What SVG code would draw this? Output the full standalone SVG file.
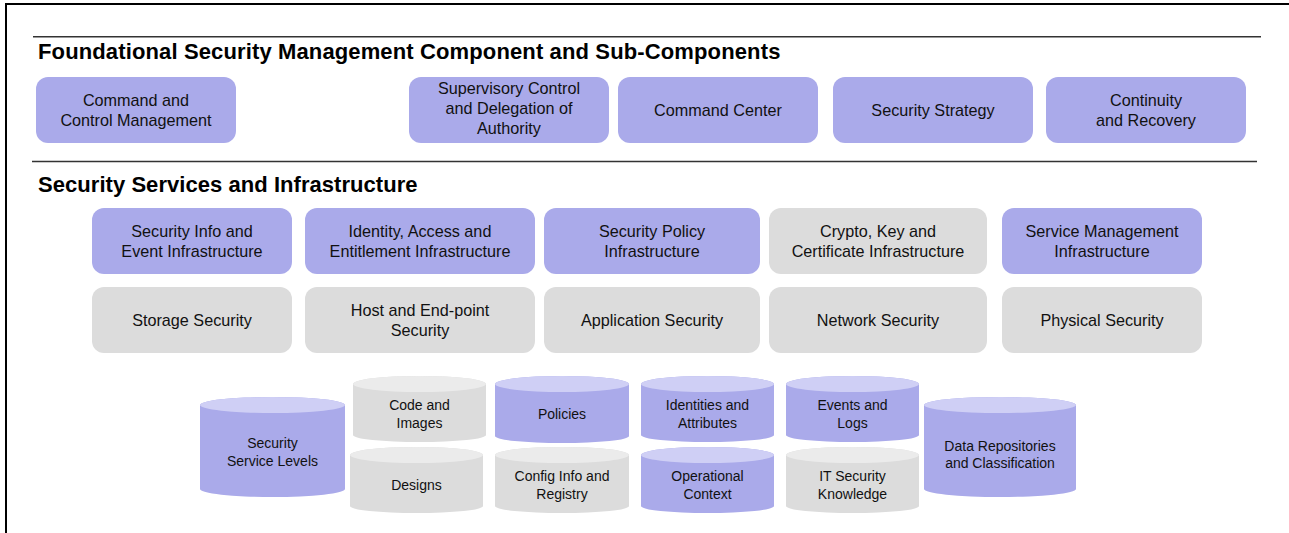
<svg xmlns="http://www.w3.org/2000/svg" width="1289" height="533" viewBox="0 0 1289 533">
<style>
.bg{fill:#ffffff}
.frame{stroke:#000;stroke-width:2;fill:none}
.sep{stroke:#333;stroke-width:1.6}
.title{font-family:"Liberation Sans",Arial,sans-serif;font-weight:bold;font-size:22px;fill:#000}
.p{fill:#aaaaea}
.g{fill:#dcdcdc}
.pt{fill:#cfcff5}
.gt{fill:#ebebeb}
.lbl{font-family:"Liberation Sans",Arial,sans-serif;font-size:16.2px;fill:#111;text-anchor:middle}
.cl{font-family:"Liberation Sans",Arial,sans-serif;font-size:14px;fill:#111;text-anchor:middle}
</style>
<rect class="bg" x="0" y="0" width="1289" height="533"/>
<path class="frame" d="M6,533 V4 H1289"/>
<g id="separators">
<line class="sep" x1="33" y1="36.7" x2="1261" y2="36.7"/>
<line class="sep" x1="32" y1="161.5" x2="1257" y2="161.5"/>
</g>
<text class="title" x="38" y="58.5" letter-spacing="0.13">Foundational Security Management Component and Sub-Components</text>
<text class="title" x="38" y="192" letter-spacing="0.05">Security Services and Infrastructure</text>

<g id="n-cmd-ctrl"><rect class="p" x="36" y="77" width="200" height="66" rx="12"/><text class="lbl" x="136" y="106">Command and</text><text class="lbl" x="136" y="126">Control Management</text></g>
<g id="n-supervisory"><rect class="p" x="409" y="77" width="200" height="66" rx="12"/><text class="lbl" x="509" y="94">Supervisory Control</text><text class="lbl" x="509" y="114">and Delegation of</text><text class="lbl" x="509" y="134">Authority</text></g>
<g id="n-cmd-center"><rect class="p" x="618" y="77" width="200" height="66" rx="12"/><text class="lbl" x="718" y="116">Command Center</text></g>
<g id="n-strategy"><rect class="p" x="833" y="77" width="200" height="66" rx="12"/><text class="lbl" x="933" y="116">Security Strategy</text></g>
<g id="n-continuity"><rect class="p" x="1046" y="77" width="200" height="66" rx="12"/><text class="lbl" x="1146" y="106">Continuity</text><text class="lbl" x="1146" y="126">and Recovery</text></g>

<g id="n-siem"><rect class="p" x="92" y="208" width="200" height="66" rx="12"/><text class="lbl" x="192" y="237">Security Info and</text><text class="lbl" x="192" y="257">Event Infrastructure</text></g>
<g id="n-iam"><rect class="p" x="305" y="208" width="230" height="66" rx="12"/><text class="lbl" x="420" y="237">Identity, Access and</text><text class="lbl" x="420" y="257">Entitlement Infrastructure</text></g>
<g id="n-policy"><rect class="p" x="544" y="208" width="216" height="66" rx="12"/><text class="lbl" x="652" y="237">Security Policy</text><text class="lbl" x="652" y="257">Infrastructure</text></g>
<g id="n-crypto"><rect class="g" x="769" y="208" width="218" height="66" rx="12"/><text class="lbl" x="878" y="237">Crypto, Key and</text><text class="lbl" x="878" y="257">Certificate Infrastructure</text></g>
<g id="n-svcmgmt"><rect class="p" x="1002" y="208" width="200" height="66" rx="12"/><text class="lbl" x="1102" y="237">Service Management</text><text class="lbl" x="1102" y="257">Infrastructure</text></g>

<g id="n-storage"><rect class="g" x="92" y="287" width="200" height="66" rx="12"/><text class="lbl" x="192" y="326">Storage Security</text></g>
<g id="n-host"><rect class="g" x="305" y="287" width="230" height="66" rx="12"/><text class="lbl" x="420" y="316">Host and End-point</text><text class="lbl" x="420" y="336">Security</text></g>
<g id="n-app"><rect class="g" x="544" y="287" width="216" height="66" rx="12"/><text class="lbl" x="652" y="326">Application Security</text></g>
<g id="n-network"><rect class="g" x="769" y="287" width="218" height="66" rx="12"/><text class="lbl" x="878" y="326">Network Security</text></g>
<g id="n-physical"><rect class="g" x="1002" y="287" width="200" height="66" rx="12"/><text class="lbl" x="1102" y="326">Physical Security</text></g>

<g id="c-ssl"><path class="p" d="M200,405 A72.5,8 0 0 1 345,405 V489 A72.5,8 0 0 1 200,489 Z"/><ellipse class="pt" cx="272.5" cy="405" rx="72.5" ry="8"/><text class="cl" x="272.5" y="448">Security</text><text class="cl" x="272.5" y="466">Service Levels</text></g>
<g id="c-code"><path class="g" d="M353,384 A66.5,8 0 0 1 486,384 V435 A66.5,7 0 0 1 353,435 Z"/><ellipse class="gt" cx="419.5" cy="384" rx="66.5" ry="8"/><text class="cl" x="419.5" y="410">Code and</text><text class="cl" x="419.5" y="428">Images</text></g>
<g id="c-designs"><path class="g" d="M350,455 A66.5,8 0 0 1 483,455 V506 A66.5,7 0 0 1 350,506 Z"/><ellipse class="gt" cx="416.5" cy="455" rx="66.5" ry="8"/><text class="cl" x="416.5" y="490">Designs</text></g>
<g id="c-policies"><path class="p" d="M495,384 A67,8 0 0 1 629,384 V436 A67,7 0 0 1 495,436 Z"/><ellipse class="pt" cx="562" cy="384" rx="67" ry="8"/><text class="cl" x="562" y="419">Policies</text></g>
<g id="c-config"><path class="g" d="M495,455 A67,8 0 0 1 629,455 V506 A67,7 0 0 1 495,506 Z"/><ellipse class="gt" cx="562" cy="455" rx="67" ry="8"/><text class="cl" x="562" y="481">Config Info and</text><text class="cl" x="562" y="499">Registry</text></g>
<g id="c-identities"><path class="p" d="M641,384 A66.5,8 0 0 1 774,384 V435 A66.5,7 0 0 1 641,435 Z"/><ellipse class="pt" cx="707.5" cy="384" rx="66.5" ry="8"/><text class="cl" x="707.5" y="410">Identities and</text><text class="cl" x="707.5" y="428">Attributes</text></g>
<g id="c-operational"><path class="p" d="M641,455 A66.5,8 0 0 1 774,455 V506 A66.5,7 0 0 1 641,506 Z"/><ellipse class="pt" cx="707.5" cy="455" rx="66.5" ry="8"/><text class="cl" x="707.5" y="481">Operational</text><text class="cl" x="707.5" y="499">Context</text></g>
<g id="c-events"><path class="p" d="M786,384 A66.5,8 0 0 1 919,384 V435 A66.5,7 0 0 1 786,435 Z"/><ellipse class="pt" cx="852.5" cy="384" rx="66.5" ry="8"/><text class="cl" x="852.5" y="410">Events and</text><text class="cl" x="852.5" y="428">Logs</text></g>
<g id="c-itsec"><path class="g" d="M786,455 A66.5,8 0 0 1 919,455 V506 A66.5,7 0 0 1 786,506 Z"/><ellipse class="gt" cx="852.5" cy="455" rx="66.5" ry="8"/><text class="cl" x="852.5" y="481">IT Security</text><text class="cl" x="852.5" y="499">Knowledge</text></g>
<g id="c-data"><path class="p" d="M924,405 A76,8 0 0 1 1076,405 V489 A76,8 0 0 1 924,489 Z"/><ellipse class="pt" cx="1000" cy="405" rx="76" ry="8"/><text class="cl" x="1000" y="451">Data Repositories</text><text class="cl" x="1000" y="468">and Classification</text></g>
<g id="connectors"></g>
</svg>
